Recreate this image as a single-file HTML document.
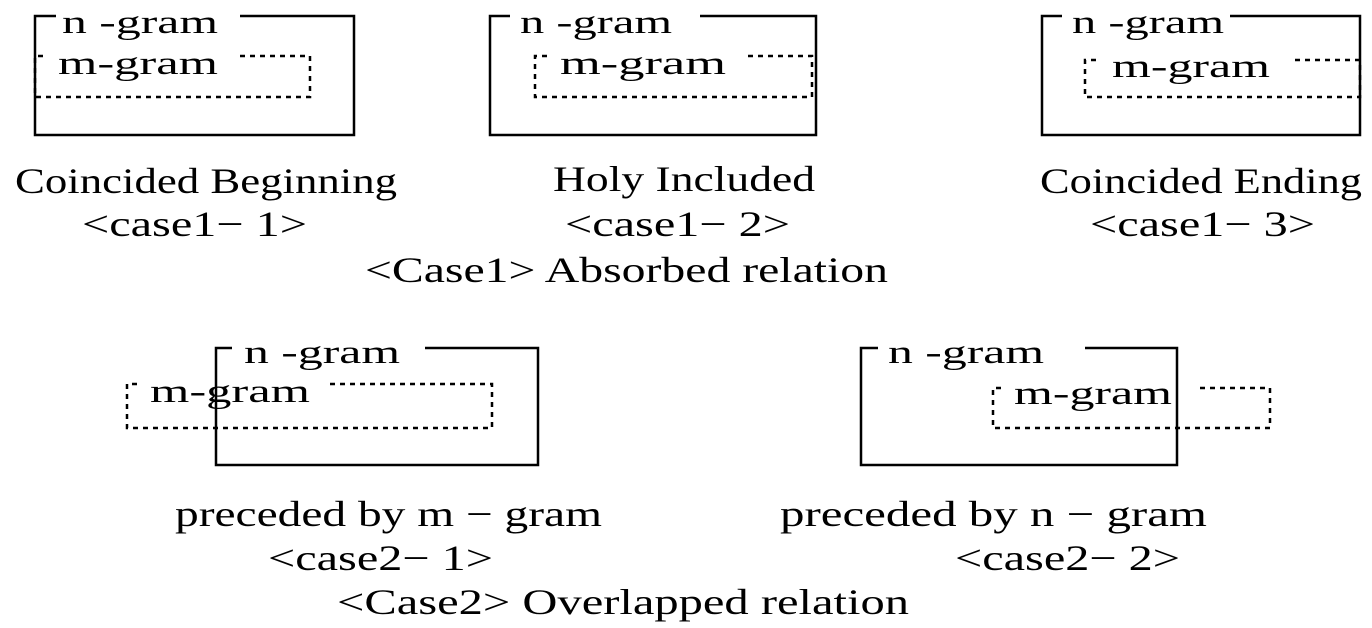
<!DOCTYPE html>
<html><head><style>html,body{margin:0;padding:0;background:#fff}svg{display:block}</style></head>
<body>
<svg width="1372" height="628" viewBox="0 0 1372 628" xmlns="http://www.w3.org/2000/svg" font-family="'Liberation Serif', serif" fill="#000">
<g fill="none" stroke="#000" stroke-width="2.5">
<path d="M240 16 H354 V135 H35 V16 H56"/>
<path d="M240 56 H310 V97 H35 V56 H48" stroke-dasharray="5 5"/>
<path d="M700 16 H816 V135 H490 V16 H510"/>
<path d="M748 56 H812 V97 H535 V56 H550" stroke-dasharray="5 5"/>
<path d="M1230 16 H1360 V135 H1042 V16 H1062"/>
<path d="M1295 60 H1360 V97 H1085 V60 H1100" stroke-dasharray="5 5"/>
<path d="M425 348 H538 V465 H216 V348 H232"/>
<path d="M330 384 H492 V428 H127 V384 H140" stroke-dasharray="5 5"/>
<path d="M1085 348 H1177 V465 H861 V348 H878"/>
<path d="M1200 388 H1270 V428 H993 V388 H1005" stroke-dasharray="5 5"/>
</g>
<g font-size="33">
<text x="62" y="33" textLength="156" lengthAdjust="spacingAndGlyphs">n -gram</text>
<text x="58" y="74" textLength="160" lengthAdjust="spacingAndGlyphs">m-gram</text>
<text x="520" y="33" textLength="152" lengthAdjust="spacingAndGlyphs">n -gram</text>
<text x="560" y="74" textLength="166" lengthAdjust="spacingAndGlyphs">m-gram</text>
<text x="1072" y="33" textLength="152" lengthAdjust="spacingAndGlyphs">n -gram</text>
<text x="1112" y="77" textLength="158" lengthAdjust="spacingAndGlyphs">m-gram</text>
<text x="244" y="363" textLength="156" lengthAdjust="spacingAndGlyphs">n -gram</text>
<text x="150" y="402" textLength="160" lengthAdjust="spacingAndGlyphs">m-gram</text>
<text x="888" y="363" textLength="156" lengthAdjust="spacingAndGlyphs">n -gram</text>
<text x="1014" y="404" textLength="158" lengthAdjust="spacingAndGlyphs">m-gram</text>
</g>
<g font-size="36">
<text x="15" y="193" textLength="382" lengthAdjust="spacingAndGlyphs">Coincided Beginning</text>
<text x="82" y="236" textLength="225" lengthAdjust="spacingAndGlyphs">&lt;case1− 1&gt;</text>
<text x="553" y="191" textLength="262" lengthAdjust="spacingAndGlyphs">Holy Included</text>
<text x="565" y="236" textLength="225" lengthAdjust="spacingAndGlyphs">&lt;case1− 2&gt;</text>
<text x="1040" y="193" textLength="322" lengthAdjust="spacingAndGlyphs">Coincided Ending</text>
<text x="1090" y="236" textLength="225" lengthAdjust="spacingAndGlyphs">&lt;case1− 3&gt;</text>
<text x="365" y="282" textLength="523" lengthAdjust="spacingAndGlyphs">&lt;Case1&gt; Absorbed relation</text>
<text x="175" y="526" textLength="427" lengthAdjust="spacingAndGlyphs">preceded by m − gram</text>
<text x="268" y="570" textLength="225" lengthAdjust="spacingAndGlyphs">&lt;case2− 1&gt;</text>
<text x="780" y="526" textLength="427" lengthAdjust="spacingAndGlyphs">preceded by n − gram</text>
<text x="955" y="570" textLength="225" lengthAdjust="spacingAndGlyphs">&lt;case2− 2&gt;</text>
<text x="337" y="614" textLength="572" lengthAdjust="spacingAndGlyphs">&lt;Case2&gt; Overlapped relation</text>
</g>
</svg>
</body></html>
